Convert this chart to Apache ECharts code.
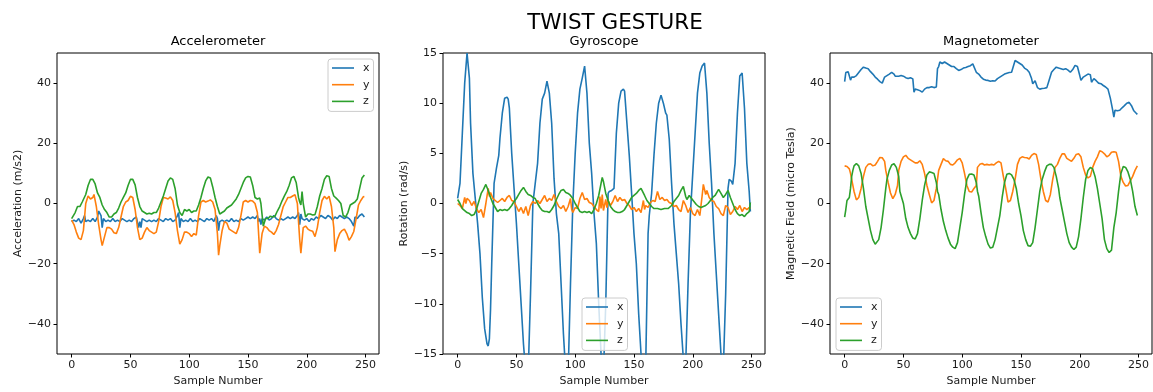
<!DOCTYPE html>
<html><head><meta charset="utf-8">
<script src="https://cdn.jsdelivr.net/npm/echarts@6/dist/echarts.min.js"></script>
<style>html,body{margin:0;padding:0;background:#fff}#c{width:1153px;height:392px}</style>
</head><body><div id="c"></div>
<script>
// ---------- data (sample number, value) ----------
const seriesNames = ['x', 'y', 'z'];
const xTicks = [0, 50, 100, 150, 200, 250];
const accTicks = [-40, -20, 0, 20, 40];
const gyroTicks = [-15, -10, -5, 0, 5, 10, 15];
const magTicks = [-40, -20, 0, 20, 40];

const accX = [[0,-6],[2,-5.5],[4,-6],[6,-5],[8,-6.5],[10,-5],[11,-4],[12,-6],[14,-5.5],[16,-6],[18,-5],[20,-6],[22,-4.5],[23,-2.5],[25,-4],[26,-8],[27,-5],[29,-6],[31,-5.5],[33,-6],[35,-5],[37,-6],[39,-5.5],[41,-6],[43,-5],[45,-5.5],[47,-6],[49,-5.5],[51,-6],[53,-5],[55,-4.5],[57,-8],[58,-6],[59,-8],[60,-5],[62,-5.5],[64,-6],[66,-5.5],[68,-6],[70,-5.5],[72,-6],[74,-5],[76,-5.5],[78,-6],[80,-5],[82,-5.5],[84,-5],[86,-6],[88,-5.5],[90,-4],[91,-3],[92,-8],[93,-5],[95,-6],[97,-5.5],[99,-6],[101,-5],[103,-6],[105,-5.5],[107,-6],[109,-5],[111,-5.5],[113,-6],[115,-5],[117,-5.5],[119,-5],[121,-6],[123,-4],[124,-5],[125,-9],[126,-6],[128,-5.5],[130,-6],[132,-5.5],[134,-6],[136,-5],[138,-6],[140,-5.5],[142,-6],[144,-5],[146,-5.5],[148,-5],[150,-4.5],[152,-5],[154,-4.5],[156,-5],[158,-4],[159,-6],[160,-5],[161,-7],[162,-5],[164,-5.5],[166,-4.5],[168,-5.5],[170,-5],[172,-4],[174,-5],[176,-5.5],[178,-5],[180,-5.5],[182,-5],[184,-4.5],[186,-5],[188,-4.5],[190,-5],[192,-4],[193,-3],[194,-7],[195,-3.5],[196,-5],[198,-5.5],[200,-5],[202,-6],[204,-5],[206,-5.5],[208,-4.5],[210,-5],[212,-4],[214,-4.5],[216,-5],[218,-4],[220,-4.5],[222,-5.5],[224,-4.5],[226,-5],[228,-4],[230,-4.5],[232,-5],[234,-4.5],[236,-5],[238,-6],[240,-7.5],[241,-4.5],[243,-5],[245,-4],[247,-3.5],[249,-4.5]];

const accY = [[0,-5.5],[2,-7],[4,-9.5],[6,-11.5],[8,-12],[10,-9],[12,0],[14,2.5],[16,1.5],[18,2],[19,3],[21,-1],[23,-7],[25,-12],[26,-14],[28,-11],[30,-8],[32,-8],[34,-8.5],[36,-9.7],[38,-10],[40,-8],[42,-4.5],[44,-1],[46,0.5],[48,1],[50,2.4],[52,2],[54,-2],[56,-8],[58,-12],[60,-11.5],[62,-9.5],[64,-8],[66,-9],[68,-9.5],[70,-10],[72,-9.5],[74,-6],[76,-1],[78,2],[80,1.8],[82,1.5],[84,2.2],[86,1],[88,-3],[90,-9],[92,-13.5],[94,-12],[96,-9.5],[98,-9.5],[100,-10],[102,-11],[104,-10],[106,-10.5],[108,-4],[110,0.5],[112,1],[114,0.5],[116,0.8],[118,1.2],[120,0.5],[122,-2],[124,-10],[125,-17.2],[126,-14],[128,-9],[130,-6],[132,-6.5],[134,-8.5],[136,-9],[138,-9.5],[140,-10],[142,-8],[144,-4],[146,0.5],[148,1],[150,0.5],[152,1],[154,0.8],[156,0],[158,-3],[160,-16.5],[162,-10],[164,-7.5],[166,-8],[168,-9],[170,-9.5],[172,-10.3],[174,-9],[176,-7],[178,-4],[180,-1],[182,0.5],[184,2],[186,2],[188,2.5],[190,2.9],[192,0],[194,-12],[195,-16.5],[197,-8],[199,-7.5],[201,-8.5],[203,-9],[205,-9.2],[207,-11],[209,-8],[211,-3],[213,1],[215,2.4],[217,1.5],[219,2.4],[221,-1],[223,-8],[224,-16],[226,-12],[228,-10],[230,-9],[232,-8.5],[234,-10],[236,-12.2],[238,-11],[240,-9.3],[242,-5],[244,-0.5],[246,1],[248,2.2],[249,2.3]];

const accZ = [[0,-5],[3,-3],[5,-1],[7,-1],[9,0.5],[12,3],[14,6],[16,8],[18,8],[20,6.5],[22,3.5],[24,2],[26,-0.5],[28,-2],[30,-3],[32,-4.5],[34,-4.5],[36,-3.5],[38,-3],[40,-1.5],[42,0.5],[44,2],[46,3.5],[48,6],[50,8],[52,8],[54,6.2],[56,2],[58,-1],[60,-2.5],[62,-3],[64,-3.5],[66,-3.2],[68,-3.5],[70,-3],[72,-3],[74,-1.5],[76,0.5],[78,2.5],[80,5],[82,7.5],[84,8.5],[86,8],[88,5],[90,-0.5],[92,-3],[94,-4],[96,-2],[98,-2.5],[100,-2],[102,-3],[104,-2.5],[106,-2.5],[108,-0.5],[110,2],[112,5],[114,7.5],[116,8.8],[118,8.5],[120,5.5],[122,2],[124,-1],[126,-3.5],[128,-3],[130,-2.5],[132,-1.5],[134,-1],[136,-0.5],[138,0.5],[140,1.5],[142,3],[144,5],[146,7],[148,8.5],[150,9],[152,8.8],[154,6],[156,2],[158,1.5],[160,1.8],[161,0],[163,-7.5],[165,-5],[167,-5],[169,-4.2],[171,-4.5],[173,-4.2],[175,-2.5],[177,-1],[179,0.9],[181,2.5],[183,4],[185,6],[187,8.5],[189,9],[191,7],[193,2],[194,0.5],[195,-0.5],[196,4],[197,0],[199,-4.5],[201,-3.5],[203,-3.5],[205,-3.8],[207,-3.7],[209,-1],[211,2.5],[213,5],[215,8],[217,9.2],[219,9],[221,5],[223,2.5],[225,1.8],[227,1],[229,0],[231,-4],[233,-4.5],[235,-3],[237,-0.5],[239,0],[241,0.5],[243,1.5],[245,5],[247,8.5],[249,9.5]];

const gyroX = [[0,0.5],[2,2],[4,7],[6,12],[8,15],[10,12.5],[11,8],[13,3],[15,0.5],[17,-2],[19,-5],[21,-9.4],[23,-12.5],[25,-14],[26,-14.2],[27,-13.5],[28,-10.5],[29,-6],[31,2],[33,3.5],[35,4.8],[36,6.5],[38,9],[40,10.5],[42,10.6],[43,10.4],[44,9.5],[46,5],[48,1.5],[50,-2],[52,-6],[54,-10],[56,-14],[58,-17],[60,-17],[62,-9],[64,0],[66,2],[68,4],[70,8],[72,10.4],[74,11],[76,12.2],[78,11],[80,8],[82,2.5],[84,-1],[86,-3],[88,-8],[90,-13],[92,-17],[94,-17],[96,-8],[98,0],[100,5],[102,9],[104,11.4],[106,12.5],[108,13.7],[110,11],[112,6],[114,3],[116,-1],[118,-4],[120,-10],[122,-15],[124,-17],[126,-10],[128,1],[129,1.2],[131,1.3],[133,1.5],[135,7],[137,10],[139,11.2],[141,11.4],[142,11.2],[144,8],[146,4.8],[148,1],[150,-3],[152,-6],[154,-11],[156,-15],[158,-17.5],[160,-16],[162,-3],[163,-1.2],[165,1],[167,4.8],[169,8],[171,10],[173,10.8],[175,10],[177,9],[178,8.8],[180,6.4],[182,2],[184,-2],[186,-5],[188,-8],[190,-12],[192,-15.5],[194,-16],[196,-8],[198,-1],[200,3],[202,7],[204,11],[206,13],[208,13.7],[210,14],[212,11],[214,6],[216,2],[218,-3],[220,-7],[222,-11],[224,-15],[226,-16.5],[228,-9],[230,1.5],[231,2.4],[233,2.2],[234,1.9],[236,4],[238,9],[240,12.7],[242,13],[244,9.5],[246,4],[248,1.2],[249,-0.8]];

const gyroY = [[0,0],[2,-0.2],[4,-0.5],[6,0.6],[7,0],[8,0.5],[10,0.3],[12,-0.2],[14,0.2],[16,-0.5],[18,-0.9],[20,-0.6],[22,-1.4],[24,0],[26,1.5],[27,0.7],[28,1.1],[30,0.5],[32,0.3],[34,0.1],[36,0.3],[38,0.5],[40,0.2],[42,0.6],[44,0.8],[46,0.3],[48,0.2],[50,-0.3],[52,-0.8],[54,-0.4],[56,-1],[58,-0.3],[60,-1.2],[62,-0.2],[64,0.2],[66,0],[68,0.3],[70,0],[72,0.4],[74,0.8],[76,0.2],[78,0.5],[80,0.3],[82,0.9],[84,0.2],[86,-0.3],[88,-0.5],[90,-0.2],[92,-0.8],[94,-0.3],[96,0.5],[97,-0.6],[98,-0.9],[100,-0.4],[102,-0.5],[104,0.5],[106,1.1],[108,0.4],[110,0.5],[112,0.1],[114,0],[116,-0.3],[118,-0.6],[120,-0.8],[121,0.7],[122,-0.5],[123,0.9],[124,-0.7],[126,0.4],[127,-0.4],[128,0.3],[130,-0.2],[132,0.2],[134,0.8],[136,0.2],[138,0.6],[140,0.3],[142,0.4],[144,0],[146,-0.2],[148,-0.6],[150,-0.4],[152,-0.8],[154,-0.5],[156,-0.9],[158,0.3],[159,-0.6],[160,-0.2],[162,-0.4],[164,0.1],[166,0.3],[168,0.2],[170,1.2],[172,0.4],[174,0.6],[176,0.3],[178,0.4],[180,0.1],[182,0],[184,-0.3],[186,-0.2],[188,-0.6],[190,-0.8],[192,0.3],[194,-0.2],[196,-0.9],[198,-0.4],[200,-1],[202,-1.2],[204,-0.6],[206,-1.2],[208,0.8],[209,1.9],[211,0.9],[212,1.3],[214,0.6],[216,0.3],[218,0.2],[220,-0.3],[222,-0.5],[224,-1],[226,-1.2],[228,-0.2],[230,-0.4],[232,-1.1],[234,-0.8],[236,-0.3],[238,-0.6],[240,-0.2],[242,-0.8],[244,-0.4],[246,-0.6],[248,-0.4],[249,-0.5]];

const gyroZ = [[0,0.4],[2,0],[4,-0.5],[6,-0.7],[8,-0.9],[10,-1],[12,-1.2],[14,-1.1],[16,-0.6],[18,0.2],[20,1],[22,1.4],[24,1.9],[25,1.9],[26,1.3],[28,0.6],[30,0],[32,-0.4],[34,-0.8],[36,-0.6],[38,-0.7],[40,-0.6],[42,-0.7],[44,-0.5],[46,-0.2],[48,0.2],[50,0.5],[52,0.9],[54,1.3],[56,1.6],[58,1.2],[60,0.9],[62,0.8],[64,0.6],[66,0.5],[68,0],[70,-0.4],[72,-0.7],[74,-0.8],[76,-0.8],[78,-0.9],[80,-0.6],[82,-0.2],[84,0.4],[86,0.9],[88,1.3],[90,1.4],[92,1.1],[94,1],[96,0.8],[98,0.5],[100,0],[102,-0.4],[104,-0.8],[106,-0.9],[108,-0.8],[110,-0.9],[112,-0.8],[114,-1],[116,-0.6],[118,0],[120,0.8],[122,2],[123,2.6],[124,2.2],[126,1],[128,0.3],[130,-0.3],[132,-0.6],[134,-0.8],[136,-0.9],[138,-0.9],[140,-0.8],[142,-0.6],[144,-0.2],[146,0.2],[148,0.6],[150,0.8],[152,1],[154,1.3],[156,1.5],[157,1.6],[159,0.8],[161,0.3],[163,0],[165,-0.3],[167,-0.5],[170,-0.5],[173,-0.6],[176,-0.5],[179,-0.5],[182,-0.2],[184,0.2],[186,0.5],[188,0.8],[190,1.3],[192,1.7],[194,0.7],[195,0.4],[197,0.8],[199,0.5],[201,0.2],[203,-0.1],[205,-0.3],[207,-0.4],[209,-0.3],[211,-0.2],[213,0],[215,0.3],[217,0.6],[219,0.8],[221,1.2],[222,1.4],[224,1],[226,0.6],[228,0.9],[230,1.3],[232,0.6],[234,0],[236,-0.6],[238,-1],[240,-1.2],[242,-1.1],[244,-1.3],[246,-1],[248,-0.8],[249,0.1]];

const magX = [[0,40.5],[1,43.5],[3,43.8],[4,43.5],[5,41],[6,42],[8,42],[10,42.5],[12,43.5],[14,44.5],[16,45.3],[18,45],[20,44.8],[22,43.8],[24,43],[26,42],[28,41.3],[30,40.5],[32,40],[33,39.8],[34,42],[36,42.5],[38,43],[40,43.6],[42,43],[43,42.3],[44,42.8],[46,42.3],[48,42.5],[50,42.3],[52,41.8],[54,41.5],[56,41.8],[58,41.4],[59,37],[60,38],[62,37.8],[64,37.5],[66,37],[68,38],[70,38.5],[72,38.5],[74,38.8],[76,38.5],[78,38.7],[79,44.8],[80,45.5],[81,47],[83,46.5],[85,47],[87,46.5],[89,46],[91,45.5],[93,45.5],[95,44.8],[97,44.2],[99,44.5],[101,45],[103,45.2],[105,45.5],[107,45.8],[109,46.4],[110,46.2],[112,43.6],[114,43],[116,42],[118,41.3],[120,41],[122,40.9],[124,40.6],[126,40.8],[128,40.7],[130,41.5],[132,42],[134,42.5],[136,43],[138,43.3],[140,43.5],[142,43.6],[143,43.8],[145,47.5],[147,47],[149,46.5],[151,46],[153,45],[155,44.5],[157,43.6],[159,41.5],[160,39.8],[162,40.8],[163,41],[164,38.5],[166,38],[168,38.2],[170,38.3],[172,38.5],[174,41],[176,43.6],[178,44.5],[180,45.3],[182,45],[184,44.8],[186,44.5],[188,44.8],[190,44.3],[192,43.6],[194,44.5],[196,45.9],[198,45.5],[200,42.5],[201,40.9],[203,42],[205,42.5],[207,43],[209,42.8],[210,40.3],[212,41.5],[214,40.8],[216,40],[218,39.8],[220,39.2],[222,38.7],[224,38],[225,37.6],[226,35],[228,31],[229,28.7],[230,31],[232,30.8],[234,31],[236,31.8],[238,32.5],[240,33.3],[242,33.6],[244,32.5],[246,30.8],[248,30],[249,29.6]];

const magY = [[0,12.5],[2,12.3],[4,11.5],[5,10],[6,8],[8,4],[10,1.2],[12,2],[14,5],[16,9],[18,12],[20,13],[22,13.2],[24,12.5],[26,12.8],[28,14],[30,15.3],[32,15.2],[34,14],[35,11],[37,7],[39,3.5],[41,1.6],[43,3],[45,6],[46,11],[48,14],[50,15.5],[52,16],[54,15],[56,14.5],[58,14],[60,13.5],[62,13.5],[64,14.2],[66,13],[68,10],[70,6],[72,3],[74,0.2],[76,1],[78,5],[80,11],[82,13],[84,14.9],[86,14.2],[88,14],[90,13],[92,12.8],[94,13.5],[96,14.5],[98,15],[100,13.5],[102,10],[104,6],[106,4],[108,3.8],[110,5],[112,6],[113,12],[115,13],[117,13.3],[119,12.8],[121,13],[123,12.8],[125,13],[127,12.8],[129,13.5],[131,14],[133,13.5],[135,9],[137,5],[139,0.5],[141,1],[143,4],[145,8],[147,13],[149,15],[151,15.5],[153,15.3],[155,15.2],[157,14.8],[159,16],[161,16.6],[163,16.3],[165,13],[167,8],[169,4],[171,1],[173,0.5],[175,3],[177,8],[179,12],[181,13],[183,15],[185,16.5],[187,16.5],[189,15],[191,14.5],[193,14],[195,15],[197,16.3],[199,16.5],[201,15.5],[203,12],[205,9.5],[207,8.5],[209,9],[211,12],[213,14],[215,15.5],[217,17.5],[219,17.2],[221,16.5],[223,15.5],[225,16],[227,17],[229,17.2],[231,17],[233,14],[235,9],[237,7],[239,5.8],[241,6],[243,7.5],[245,9],[247,11],[249,12.5]];

const magZ = [[0,-4.5],[1,-2],[2,1],[3,1.5],[4,2],[5,5],[6,9],[7,11],[8,12.5],[10,13.3],[12,12.5],[14,10],[16,5],[18,-1],[20,-5],[22,-9],[24,-12],[26,-13.5],[27,-14],[29,-12],[31,-8],[33,-2],[35,5],[36,8],[38,11],[40,12.8],[42,13.2],[44,12],[46,9],[47,4],[48,3.5],[50,0],[52,-5],[54,-8],[56,-10],[58,-11.5],[60,-11.8],[62,-10],[64,-5],[66,1],[68,6],[70,9.5],[72,10.5],[74,10.3],[76,10],[78,7],[79,4],[80,3],[82,-2],[84,-6],[86,-9],[88,-11.5],[90,-13.5],[92,-14.5],[94,-15],[96,-13],[98,-8],[100,-3],[102,3],[104,8],[106,9.7],[108,9.8],[110,9.5],[112,7],[113,4],[114,2.5],[116,-3],[118,-8],[120,-11],[122,-13.5],[124,-14.8],[126,-14.5],[128,-12],[130,-8],[132,-4],[134,2],[136,7],[138,9.7],[140,10],[142,9.5],[144,8],[146,5],[148,0],[150,-4],[152,-9],[154,-12],[156,-14],[158,-14.2],[160,-13],[162,-8],[164,-2],[166,4],[168,8],[170,10.5],[172,12.5],[174,13],[176,13],[178,12],[180,9],[182,5],[183,2],[185,-2],[187,-6],[189,-10],[191,-13],[193,-14.5],[195,-15.3],[197,-14.5],[199,-11],[201,-5],[203,2],[205,8],[207,11],[209,12],[211,11.5],[213,9],[215,5],[217,0],[219,-5],[221,-12],[223,-15],[225,-16.3],[227,-15.5],[229,-8],[231,-3],[233,4],[235,10],[237,12.3],[239,12],[241,10.5],[243,8],[245,4],[247,-1],[249,-4]];

// ---------- layout / style ----------
const FONT = 'DejaVu Sans';
const TXT = '#1a1a1a';
const COLORS = ['#1f77b4', '#ff7f0e', '#2ca02c'];
const GT = 53, GH = 303, GW = 322;
const fmtMinus = v => (v < 0 ? '\u2212' + Math.abs(v) : String(v));

const panels = [
  { title: 'Accelerometer', yName: 'Acceleration (m/s2)', left: 57, min: -50, max: 50, ticks: accTicks, data: [accX, accY, accZ], lg: { left: 328, top: 59 } },
  { title: 'Gyroscope', yName: 'Rotation (rad/s)', left: 443, min: -15, max: 15, ticks: gyroTicks, data: [gyroX, gyroY, gyroZ], lg: { left: 582, top: 298 } },
  { title: 'Magnetometer', yName: 'Magnetic Field (micro Tesla)', left: 830, min: -50, max: 50, ticks: magTicks, data: [magX, magY, magZ], lg: { left: 836, top: 298 } }
];

const grid = [], xAxis = [], yAxis = [], series = [], legend = [], graphic = [];
graphic.push({ type: 'text', x: 615, y: 23, style: { text: 'TWIST GESTURE', fill: '#000', font: '21.5px "DejaVu Sans"', textAlign: 'center', textVerticalAlign: 'middle' } });

panels.forEach((p, i) => {
  grid.push({ left: p.left, top: GT, width: GW, height: GH, show: true, borderColor: '#000', borderWidth: 1, backgroundColor: 'transparent' });
  graphic.push({ type: 'text', x: p.left + GW / 2, y: 42, style: { text: p.title, fill: '#000', font: '13px "DejaVu Sans"', textAlign: 'center', textVerticalAlign: 'middle' } });
  xAxis.push({
    gridIndex: i, type: 'value', min: -12.45, max: 261.45, position: 'bottom',
    axisLine: { show: false, onZero: false }, splitLine: { show: false },
    axisTick: { show: true, length: 3.5, customValues: xTicks, lineStyle: { color: '#000', width: 1 } },
    axisLabel: { customValues: xTicks, fontSize: 11, fontFamily: FONT, color: TXT, margin: 6, formatter: fmtMinus },
    name: 'Sample Number', nameLocation: 'middle', nameGap: 22,
    nameTextStyle: { fontSize: 11, fontFamily: FONT, color: TXT }
  });
  yAxis.push({
    gridIndex: i, type: 'value', min: p.min, max: p.max, position: 'left',
    axisLine: { show: false, onZero: false }, splitLine: { show: false },
    axisTick: { show: true, length: 3.5, customValues: p.ticks, lineStyle: { color: '#000', width: 1 } },
    axisLabel: { customValues: p.ticks, fontSize: 11, fontFamily: FONT, color: TXT, margin: 6, formatter: fmtMinus },
    name: p.yName, nameLocation: 'middle', nameGap: 32, nameRotate: 90,
    nameTextStyle: { fontSize: 11, fontFamily: FONT, color: TXT }
  });
  p.data.forEach((d, k) => {
    series.push({
      type: 'line', name: seriesNames[k], xAxisIndex: i, yAxisIndex: i, data: d,
      symbol: 'none', showSymbol: false, clip: true, z: 2 + k,
      lineStyle: { color: COLORS[k], width: 1.6 }, itemStyle: { color: COLORS[k] }
    });
  });
  legend.push({
    data: seriesNames, orient: 'vertical', left: p.lg.left, top: p.lg.top,
    icon: 'rect', itemWidth: 22, itemHeight: 1.6, itemGap: 4.7, padding: [3, 4, 4, 4],
    backgroundColor: 'rgba(255,255,255,0.8)', borderColor: '#cccccc', borderWidth: 1, borderRadius: 3,
    selectedMode: false,
    textStyle: { fontSize: 11, lineHeight: 12, fontFamily: FONT, color: TXT, padding: [0, 0, 0, 4] }
  });
});

const chart = echarts.init(document.getElementById('c'), null, { renderer: 'canvas' });
chart.setOption({ animation: false, backgroundColor: '#fff', grid, xAxis, yAxis, series, legend, graphic });
</script>
</body></html>
